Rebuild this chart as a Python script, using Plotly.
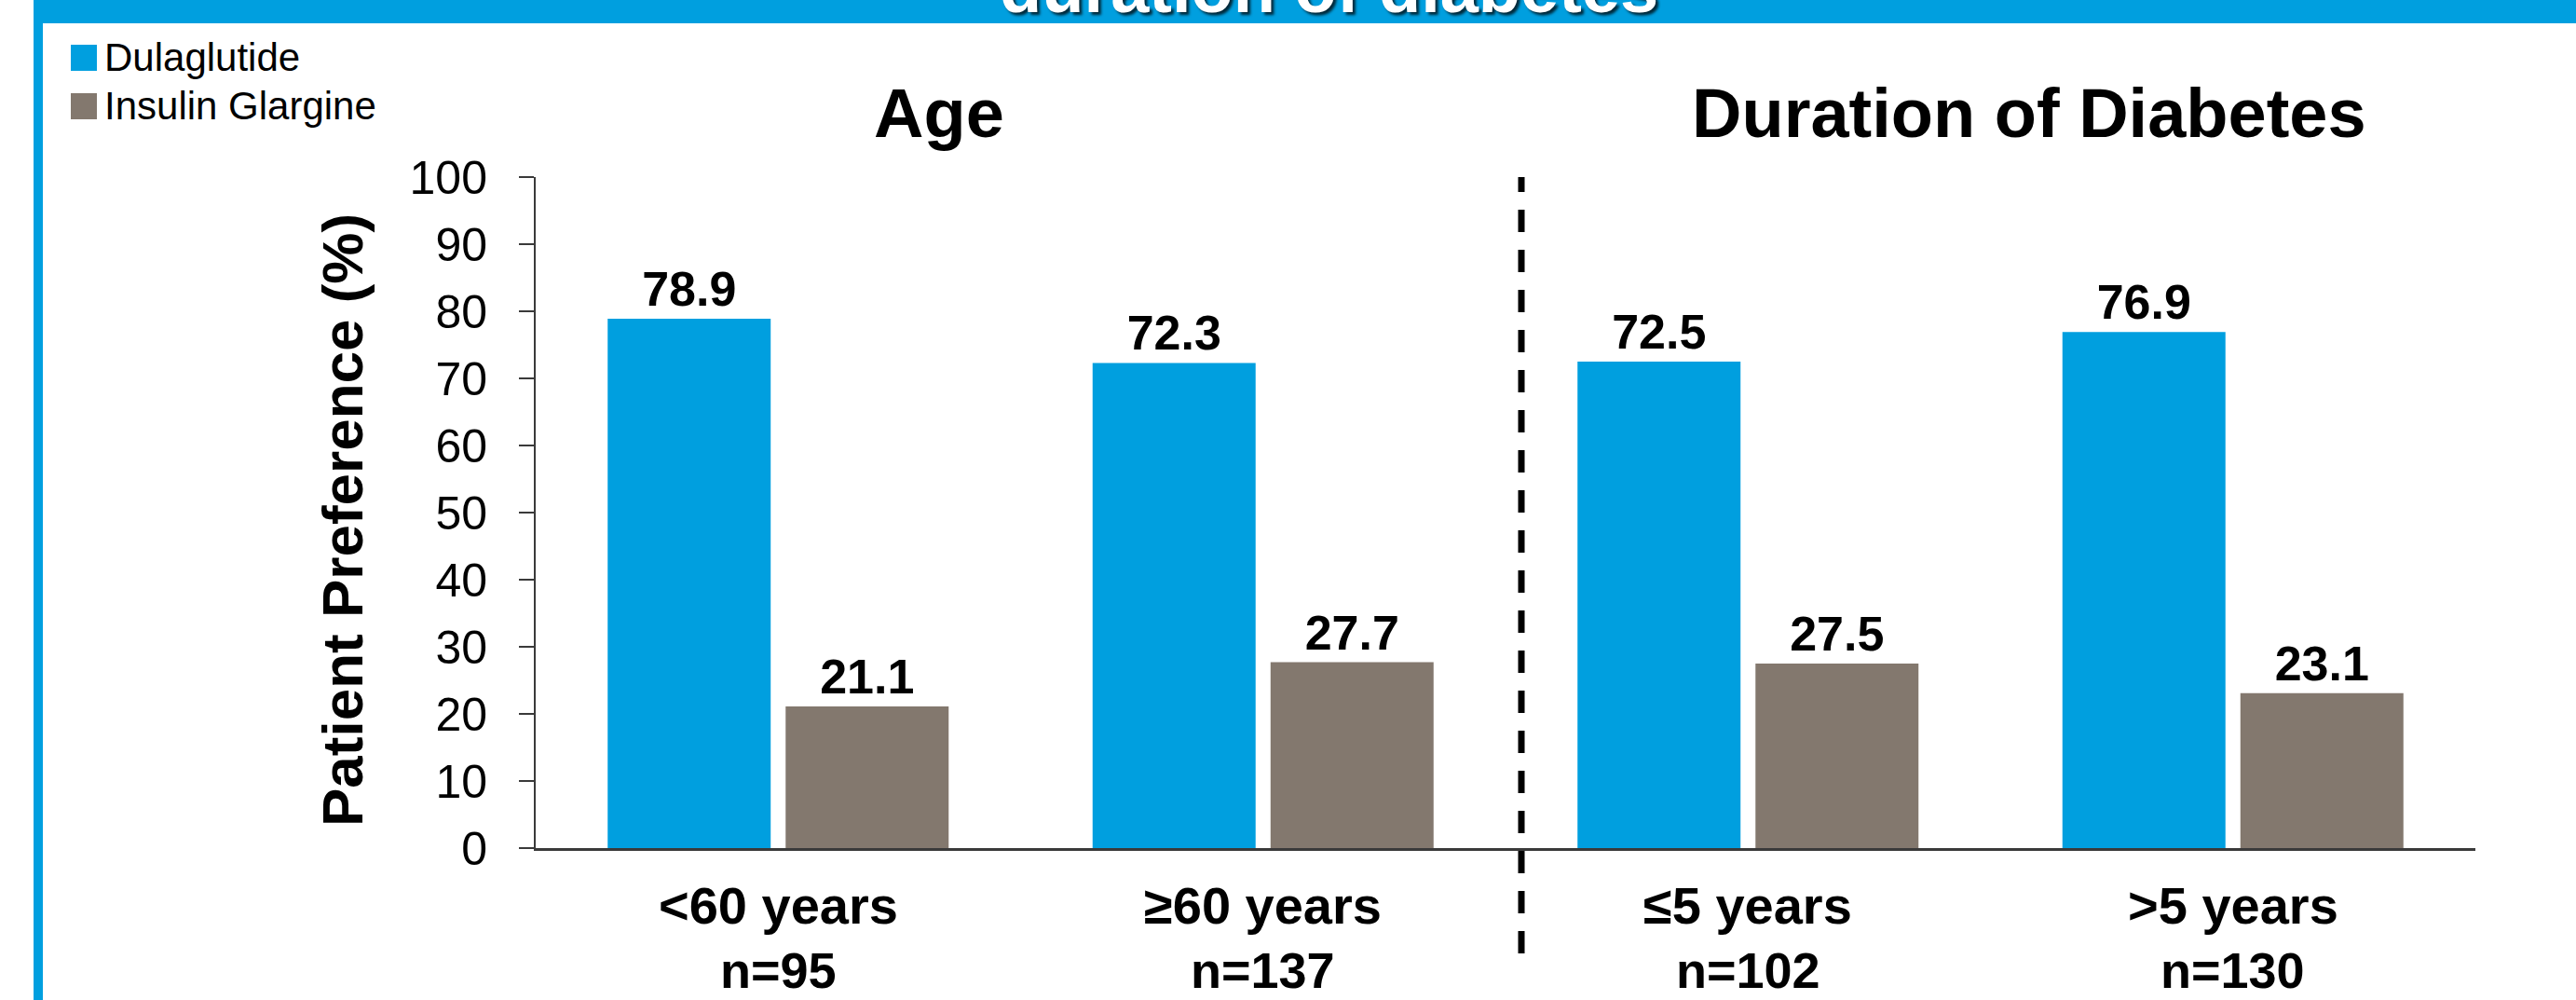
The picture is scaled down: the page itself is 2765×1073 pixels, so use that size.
import plotly.graph_objects as go

# ---- data -------------------------------------------------------------
categories = ["<60 years", "≥60 years", "≤5 years", ">5 years"]
sample_sizes = ["n=95", "n=137", "n=102", "n=130"]
series_names = ["Dulaglutide", "Insulin Glargine"]
dulaglutide = [78.9, 72.3, 72.5, 76.9]
insulin_glargine = [21.1, 27.7, 27.5, 23.1]
group_titles = ["Age", "Duration of Diabetes"]
y_ticks = [0, 10, 20, 30, 40, 50, 60, 70, 80, 90, 100]

# ---- styling ----------------------------------------------------------
BLUE = "#009FDF"
GRAY = "#83786E"
AXIS = "#3A3A3A"
FONT = "Liberation Sans, Arial, Helvetica, sans-serif"

W, H = 2765, 1073
L, R, T, B = 575, 108, 190, 163
PW, PH = W - L - R, H - T - B


def px_x(p):
    """pixel column -> paper x"""
    return (p - L) / PW


def px_y(p):
    """pixel row -> paper y"""
    return (H - B - p) / PH


fig = go.Figure()
for name, vals, col in [(series_names[0], dulaglutide, BLUE),
                        (series_names[1], insulin_glargine, GRAY)]:
    fig.add_trace(go.Bar(
        name=name, x=categories, y=vals, marker=dict(color=col, line=dict(width=0)),
        text=[f"{v:.1f}" for v in vals], textposition="outside",
        textfont=dict(family=FONT, size=52, color="black", weight="bold"),
        cliponaxis=False, showlegend=False,
    ))

shapes = []
annotations = []

# header banner and left frame
shapes.append(dict(type="rect", xref="paper", yref="paper",
                   x0=px_x(36), x1=px_x(W + 5), y0=px_y(25), y1=px_y(-5),
                   fillcolor=BLUE, line=dict(width=0), layer="below"))
shapes.append(dict(type="rect", xref="paper", yref="paper",
                   x0=px_x(36), x1=px_x(46), y0=px_y(H + 5), y1=px_y(20),
                   fillcolor=BLUE, line=dict(width=0), layer="below"))
annotations.append(dict(
    text="<b>duration of diabetes</b>", xref="paper", yref="paper",
    x=px_x(1426), y=px_y(-12.6), xanchor="center", yanchor="middle",
    showarrow=False,
    font=dict(family=FONT, size=74, color="white", shadow="3px 3px 3px rgba(0,0,0,0.75)"),
))

# legend drawn as swatches + labels
for i, (name, col) in enumerate(zip(series_names, [BLUE, GRAY])):
    top = 48 + i * 52
    shapes.append(dict(type="rect", xref="paper", yref="paper",
                       x0=px_x(76), x1=px_x(104), y0=px_y(top + 28), y1=px_y(top),
                       fillcolor=col, line=dict(width=0)))
    annotations.append(dict(text=name, xref="paper", yref="paper",
                            x=px_x(110), y=px_y(top + 14), xanchor="left", yanchor="middle",
                            showarrow=False, font=dict(family=FONT, size=42, color="black")))

# group headings
for title, cx in zip(group_titles, [1008, 2178]):
    annotations.append(dict(text=f"<b>{title}</b>", xref="paper", yref="paper",
                            x=px_x(cx), y=px_y(121.4), xanchor="center", yanchor="middle",
                            showarrow=False, font=dict(family=FONT, size=74, color="black")))

# dashed separator between the two groups
shapes.append(dict(type="line", xref="paper", yref="paper",
                   x0=px_x(1633), x1=px_x(1633), y0=px_y(1023), y1=px_y(190),
                   line=dict(color="black", width=7, dash="24px,19px")))

# category labels with sample sizes
for cat, n in zip(categories, sample_sizes):
    annotations.append(dict(text=f"<b>{cat}</b>", xref="x", yref="paper",
                            x=cat, y=px_y(971), xanchor="center", yanchor="middle",
                            showarrow=False, font=dict(family=FONT, size=56, color="black")))
    annotations.append(dict(text=f"<b>{n}</b>", xref="x", yref="paper",
                            x=cat, y=px_y(1041), xanchor="center", yanchor="middle",
                            showarrow=False, font=dict(family=FONT, size=54, color="black")))

# y-axis title
annotations.append(dict(text="<b>Patient Preference (%)</b>", xref="paper", yref="paper",
                        x=px_x(367), y=px_y(558), xanchor="center", yanchor="middle",
                        textangle=-90, showarrow=False,
                        font=dict(family=FONT, size=62, color="black")))

fig.update_layout(
    width=W, height=H, autosize=False,
    margin=dict(l=L, r=R, t=T, b=B, pad=0),
    paper_bgcolor="white", plot_bgcolor="white",
    barmode="group", bargap=0.266, bargroupgap=0.084,
    shapes=shapes, annotations=annotations,
    font=dict(family=FONT, color="black"),
)
fig.update_xaxes(
    type="category", showticklabels=False, ticks="",
    showline=True, linecolor=AXIS, linewidth=3, showgrid=False, zeroline=False,
)
fig.update_yaxes(
    range=[0, 100], tickvals=y_ticks, ticks="outside", ticklen=16, tickwidth=2,
    tickcolor=AXIS, showline=True, linecolor=AXIS, linewidth=2,
    showgrid=False, zeroline=False, ticklabelstandoff=24,
    tickfont=dict(family=FONT, size=50, color="black"),
)

fig.write_html("out.html")
